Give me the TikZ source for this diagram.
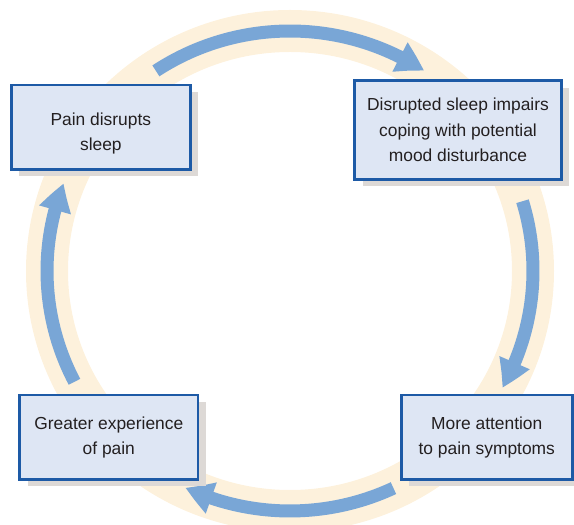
\documentclass[tikz,border=0pt]{standalone}
\usepackage{fontspec}
\setmainfont{Liberation Sans}
\usetikzlibrary{arrows.meta,bending,shadows,calc}

\definecolor{ringc}{HTML}{FDF1DC}
\definecolor{flowc}{HTML}{79A6D6}
\definecolor{boxfill}{HTML}{DEE6F4}
\definecolor{boxline}{HTML}{1D5AA6}
\definecolor{shadowc}{HTML}{DDD9D6}
\definecolor{textc}{HTML}{231F20}

\tikzset{
  stagebox/.style={
    draw=boxline, line width=2.5pt, fill=boxfill,
    rectangle, align=center, inner sep=0pt,
    text=textc,
    font=\fontsize{17.4}{25.5}\selectfont,
    drop shadow={shadow xshift=8pt, shadow yshift=-7pt, fill=shadowc, opacity=1}
  },
  ring/.style={draw=ringc, line width=42pt},
  flow/.style={draw=flowc, line width=13pt,
    -{Triangle[width=31pt,length=28pt,bend]}}
}

\begin{document}
\begin{tikzpicture}[x=1pt,y=1pt]
  \useasboundingbox (0,0) rectangle (574,525);

  % cycle centre and the pale ring behind everything
  \coordinate (c) at (290,254);
  \draw[ring] (c) ellipse[x radius=243, y radius=240];

  % arrow start points on the ring
  \coordinate (s1) at ($(c)+(123.5:243 and 240)$);
  \coordinate (s2) at ($(c)+(16.9:243 and 240)$);
  \coordinate (s3) at ($(c)+(-64.8:243 and 240)$);
  \coordinate (s4) at ($(c)+(207.5:243 and 240)$);

  \draw[flow] (s1) arc[start angle=123.5, end angle=56.5, x radius=243, y radius=240];
  \draw[flow] (s2) arc[start angle=16.9, end angle=-29.1, x radius=243, y radius=240];
  \draw[flow] (s3) arc[start angle=-64.8, end angle=-115.5, x radius=243, y radius=240];
  \draw[flow] (s4) arc[start angle=207.5, end angle=158.6, x radius=243, y radius=240];

  % the four stages (the strut sets the first line of the first box a little lower)
  \node[stagebox, minimum width=179.2pt, minimum height=84.2pt] (sleep) at (100.85,397.65)
    {\rule{0pt}{25pt}Pain disrupts\\sleep};
  \node[stagebox, minimum width=206.9pt, minimum height=98.9pt] (mood) at (458,395)
    {Disrupted sleep impairs\\coping with potential\\mood disturbance};
  \node[stagebox, minimum width=171pt, minimum height=84.2pt] (attention) at (486.75,87.65)
    {More attention\\to pain symptoms};
  \node[stagebox, minimum width=178.5pt, minimum height=84.2pt] (pain) at (108.8,87.65)
    {Greater experience\\of pain};
\end{tikzpicture}
\end{document}
